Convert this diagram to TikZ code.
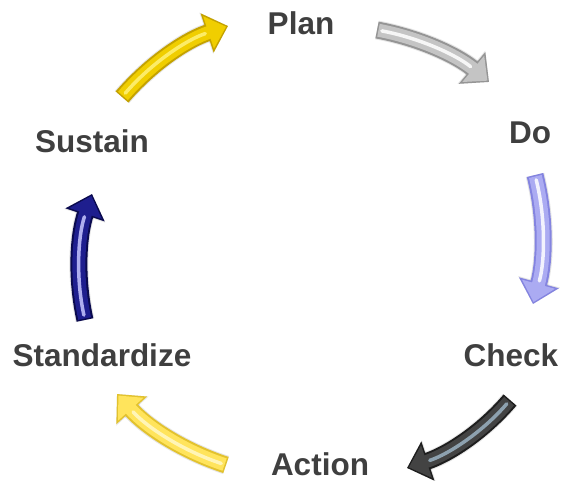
\documentclass[tikz,border=0pt]{standalone}
\usepackage{fontspec}
\setmainfont{Liberation Sans}
\usetikzlibrary{arrows.meta,calc}
\definecolor{txt}{HTML}{3F3F3F}
\definecolor{silB}{HTML}{C4C4C4}\definecolor{silE}{HTML}{959595}\definecolor{silH}{HTML}{FFFFFF}
\definecolor{lavB}{HTML}{ABABF2}\definecolor{lavE}{HTML}{8484E0}\definecolor{lavH}{HTML}{FFFFFF}
\definecolor{drkB}{HTML}{434343}\definecolor{drkE}{HTML}{1E1E1E}\definecolor{drkH}{HTML}{9AB2C2}
\definecolor{lyeB}{HTML}{FFE45C}\definecolor{lyeE}{HTML}{E2C22E}\definecolor{lyeH}{HTML}{FFF8C8}
\definecolor{navB}{HTML}{1E1E8E}\definecolor{navE}{HTML}{0A0A4E}\definecolor{navH}{HTML}{C8C8FF}
\definecolor{golB}{HTML}{F0CE00}\definecolor{golE}{HTML}{C4A200}\definecolor{golH}{HTML}{FFF27A}
\begin{document}
\begin{tikzpicture}[x=1pt,y=-1pt,
  lbl/.style={font=\fontsize{31.5}{36}\selectfont\bfseries, text=txt, inner sep=0pt},
  shadowline/.style={line width=19pt, draw=black, opacity=0.10, -{Triangle[length=23pt,width=42pt]}},
  edgeline/.style={line width=17pt, draw=#1, -{Triangle[length=22pt,width=40pt]}},
  baseline/.style={line width=13pt, draw=#1, shorten >=2pt, shorten <=1.5pt, -{Triangle[length=18.5pt,width=33pt]}},
  hiline/.style={line width=3.5pt, draw=#1, opacity=0.85, line cap=round, shorten >=24pt, shorten <=5pt}
]
\useasboundingbox (0,0) rectangle (568,481);

% labels
\node[lbl] (plan) at (301,23) {Plan};
\node[lbl] (do) at (530,133) {Do};
\node[lbl] (check) at (511,355) {Check};
\node[lbl] (action) at (320,464) {Action};
\node[lbl] (std) at (102,355) {Standardize};
\node[lbl] (sus) at (92,141) {Sustain};

% arrow end points and bulge controls (quadratic)
\coordinate (t1) at (377,30);  \coordinate (c1) at (441,42);  \coordinate (h1) at (489,82);
\coordinate (t2) at (535,175); \coordinate (c2) at (551,239); \coordinate (h2) at (533,304);
\coordinate (t3) at (510,400); \coordinate (c3) at (470,447); \coordinate (h3) at (407,468);
\coordinate (t4) at (226,465); \coordinate (c4) at (162,444); \coordinate (h4) at (117,394);
\coordinate (t5) at (85,320);  \coordinate (c5) at (71,257);  \coordinate (h5) at (92,194);
\coordinate (t6) at (122,97);  \coordinate (c6) at (165,47);  \coordinate (h6) at (228,26);
\foreach \i in {1,...,6}{
  \coordinate (a\i) at ($(t\i)!2/3!(c\i)$);
  \coordinate (b\i) at ($(h\i)!2/3!(c\i)$);
}

% shadows
\foreach \i in {1,...,6}{
  \draw[shadowline, shift={(3,4)}] (t\i) .. controls (a\i) and (b\i) .. (h\i);
}

% arrows
\foreach \i/\col in {1/sil,2/lav,3/drk,4/lye,5/nav,6/gol}{
  \draw[edgeline=\col E] (t\i) .. controls (a\i) and (b\i) .. (h\i);
  \draw[baseline=\col B] (t\i) .. controls (a\i) and (b\i) .. (h\i);
  \draw[hiline=\col H]   (t\i) .. controls (a\i) and (b\i) .. (h\i);
}
\end{tikzpicture}
\end{document}
